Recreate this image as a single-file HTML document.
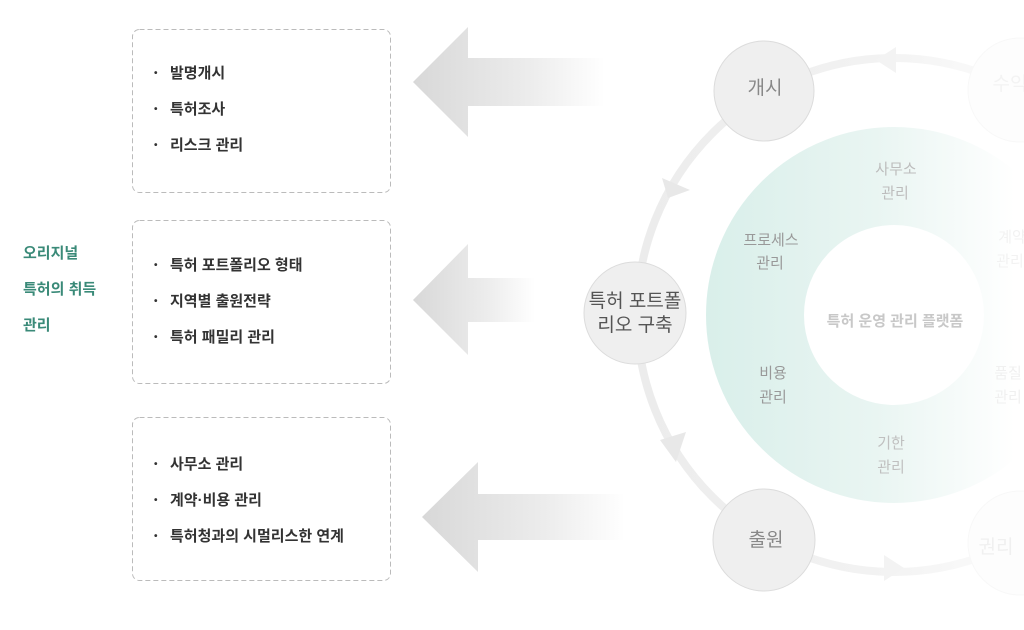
<!DOCTYPE html>
<html><head><meta charset="utf-8"><style>
html,body{margin:0;padding:0;background:#fff;width:1024px;height:630px;overflow:hidden}
svg text{font-family:"Liberation Sans","Noto Sans CJK KR",sans-serif}
</style></head><body>
<svg width="1024" height="630" viewBox="0 0 1024 630" xmlns="http://www.w3.org/2000/svg">
<defs>
<linearGradient id="ag1" x1="413" x2="605" y1="0" y2="0" gradientUnits="userSpaceOnUse"><stop offset="0" stop-color="#d8d8d8"/><stop offset="0.6" stop-color="#ececec"/><stop offset="1" stop-color="#fff"/></linearGradient>
<linearGradient id="ag2" x1="413" x2="535" y1="0" y2="0" gradientUnits="userSpaceOnUse"><stop offset="0" stop-color="#d8d8d8"/><stop offset="0.6" stop-color="#ececec"/><stop offset="1" stop-color="#fff"/></linearGradient>
<linearGradient id="ag3" x1="422" x2="625" y1="0" y2="0" gradientUnits="userSpaceOnUse"><stop offset="0" stop-color="#d8d8d8"/><stop offset="0.6" stop-color="#ececec"/><stop offset="1" stop-color="#fff"/></linearGradient>
<linearGradient id="dg" x1="706" x2="1015" y1="0" y2="0" gradientUnits="userSpaceOnUse"><stop offset="0" stop-color="#d9efea"/><stop offset="0.55" stop-color="#e9f5f2"/><stop offset="1" stop-color="#fff"/></linearGradient>
<linearGradient id="rg" x1="640" x2="1024" y1="0" y2="0" gradientUnits="userSpaceOnUse"><stop offset="0" stop-color="#ececec"/><stop offset="0.6" stop-color="#f2f2f2"/><stop offset="1" stop-color="#fcfcfc"/></linearGradient>
</defs>

<g fill="#3a8a78" font-size="15" font-weight="bold">
<text x="23" y="258">오리지널</text>
<text x="23" y="294">특허의 취득</text>
<text x="23" y="330">관리</text>
</g>

<g fill="none" stroke="#bbb" stroke-width="1" stroke-dasharray="5,3">
<rect x="132.5" y="29.5" width="258" height="163" rx="7"/>
<rect x="132.5" y="220.5" width="258" height="163" rx="7"/>
<rect x="132.5" y="417.5" width="258" height="163" rx="7"/>
</g>
<g fill="#333" font-size="15" font-weight="bold">
<g font-size="10"><text x="154" y="76">•</text><text x="154" y="112">•</text><text x="154" y="148">•</text>
<text x="154" y="268">•</text><text x="154" y="304">•</text><text x="154" y="340">•</text>
<text x="154" y="467">•</text><text x="154" y="503">•</text><text x="154" y="539">•</text></g>
<text x="170" y="78">발명개시</text>
<text x="170" y="114">특허조사</text>
<text x="170" y="150">리스크 관리</text>
<text x="170" y="270">특허 포트폴리오 형태</text>
<text x="170" y="306">지역별 출원전략</text>
<text x="170" y="342">특허 패밀리 관리</text>
<text x="170" y="469">사무소 관리</text>
<text x="170" y="505">계약·비용 관리</text>
<text x="170" y="541">특허청과의 시멀리스한 연계</text>
</g>

<polygon points="413,82 468,27 468,58 605,58 605,106 468,106 468,137" fill="url(#ag1)"/>
<polygon points="413,300 468,244 468,278 535,278 535,322 468,322 468,355" fill="url(#ag2)"/>
<polygon points="422,517 478,462 478,494 625,494 625,540 478,540 478,572" fill="url(#ag3)"/>

<circle cx="894" cy="315" r="257" fill="none" stroke="url(#rg)" stroke-width="8"/>
<polygon points="662,178 690,190 668,198" fill="#e8e8e8"/>
<polygon points="660,440 686,432 676,462" fill="#e8e8e8"/>
<polygon points="876,60 896,47 896,73" fill="#f3f3f3"/>
<polygon points="904,568 884,555 884,581" fill="#f3f3f3"/>

<circle cx="894" cy="315" r="139" fill="none" stroke="url(#dg)" stroke-width="98"/>

<circle cx="1020" cy="90" r="52" fill="#fdfdfd" stroke="#f8f8f8"/>
<circle cx="1020" cy="543" r="52" fill="#fdfdfd" stroke="#f8f8f8"/>
<g fill="#efefef" stroke="#dcdcdc">
<circle cx="764" cy="91" r="50"/>
<circle cx="635" cy="313" r="51"/>
<circle cx="764" cy="540" r="51"/>
</g>
<g font-size="19" text-anchor="middle">
<text x="765" y="94" fill="#888">개시</text>
<text x="766" y="546" fill="#888">출원</text>
<text x="635" y="307" fill="#555">특허 포트폴</text>
<text x="635" y="331" fill="#555">리오 구축</text>
<text x="1010" y="90" fill="#f3f3f3">수익</text>
<text x="996" y="553" fill="#f0f0f0">권리</text>
</g>

<g font-size="15" text-anchor="middle">
<text x="896" y="174" fill="#bdbdbd">사무소</text><text x="895" y="198" fill="#bdbdbd">관리</text>
<text x="771" y="245" fill="#999">프로세스</text><text x="770" y="268" fill="#999">관리</text>
<text x="773" y="378" fill="#999">비용</text><text x="773" y="402" fill="#999">관리</text>
<text x="891" y="448" fill="#c0c0c0">기한</text><text x="891" y="472" fill="#c0c0c0">관리</text>
<text x="895" y="326" fill="#c8c8c8" font-weight="bold">특허 운영 관리 플랫폼</text>
<text x="1012" y="242" fill="#f2f2f2">계약</text><text x="1010" y="266" fill="#f2f2f2">관리</text>
<text x="1008" y="378" fill="#f0f0f0">품질</text><text x="1008" y="402" fill="#f0f0f0">관리</text>
</g>
</svg>
</body></html>
